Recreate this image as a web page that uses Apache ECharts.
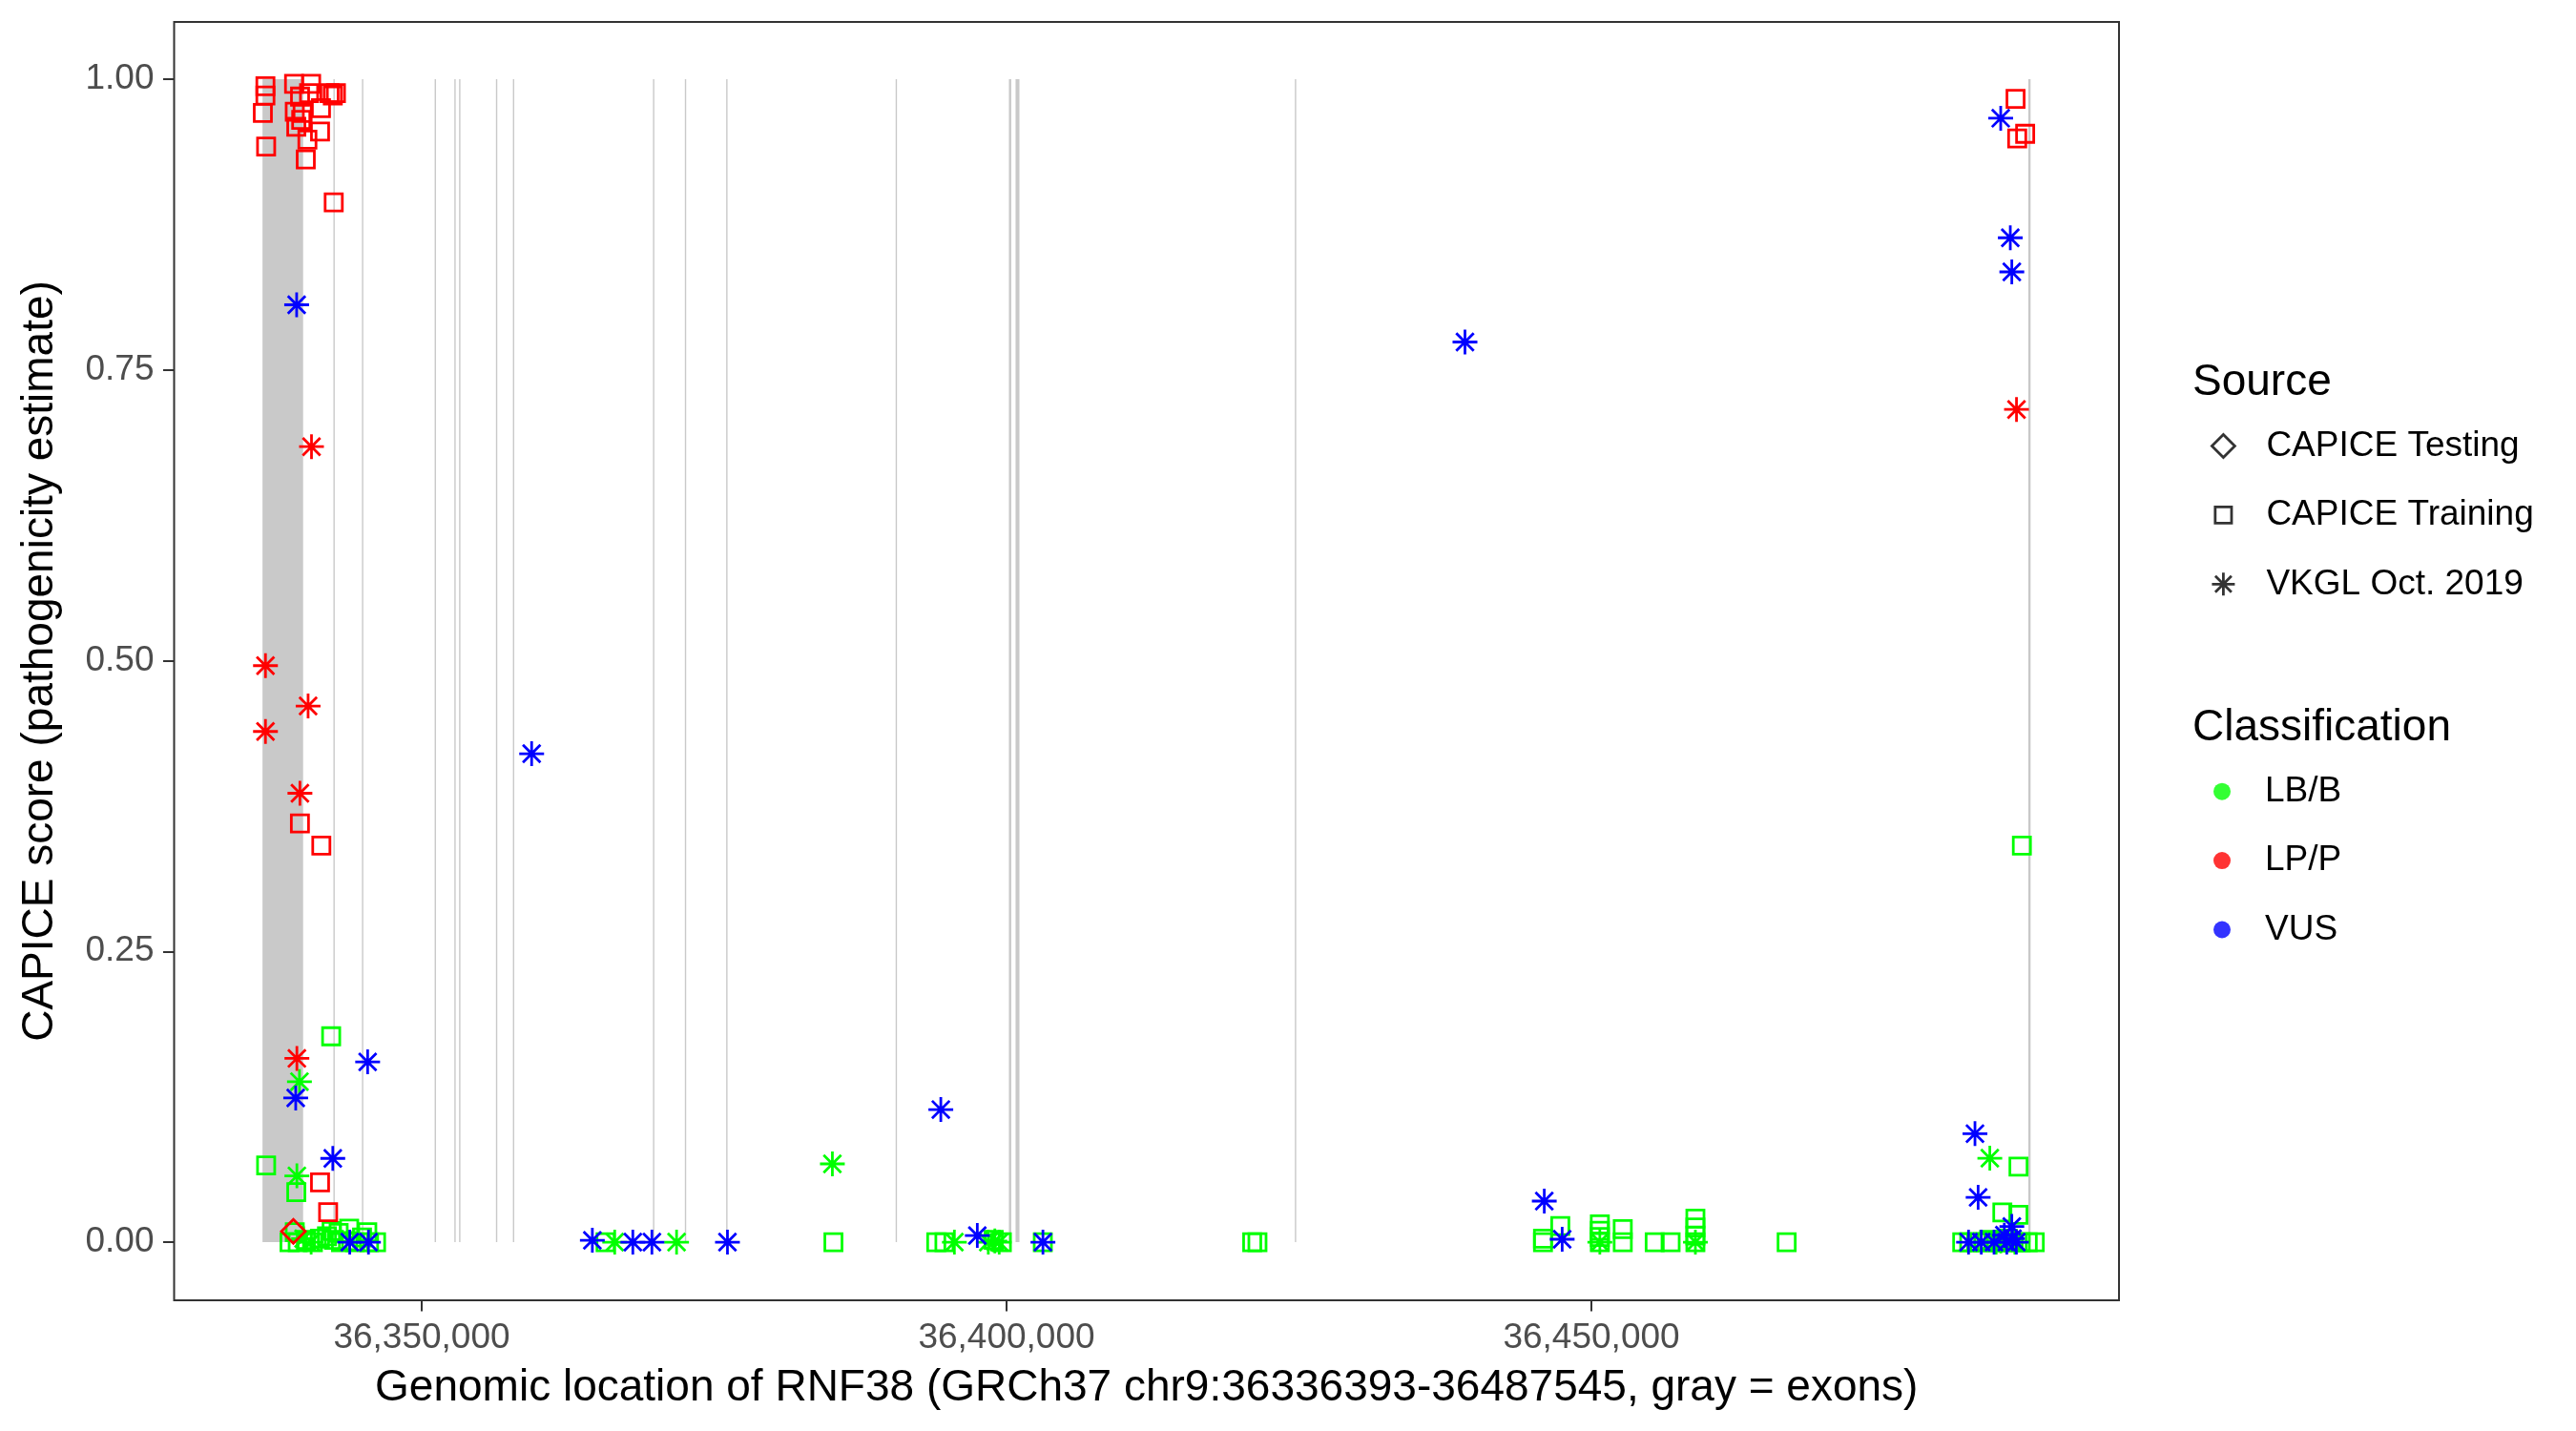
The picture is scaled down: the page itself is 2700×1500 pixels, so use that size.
<!DOCTYPE html>
<html><head><meta charset="utf-8">
<script src="https://cdn.jsdelivr.net/npm/echarts@6/dist/echarts.min.js"></script>
<style>html,body{margin:0;padding:0;background:#fff}#c{width:2700px;height:1500px}</style>
</head><body><div id="c"></div>
<script>
// ---- axis ticks ----
const xTicks = [36350000, 36400000, 36450000];
const yTicks = [0, 0.25, 0.5, 0.75, 1];
const xRange = [36328835, 36495103];   // gene range ± 5 %
const yRange = [-0.05, 1.0492];

// ---- exons (gray) ----
const exonStart = [36336393, 36342460, 36344900, 36351120, 36352800, 36353210, 36356360, 36357810, 36369780, 36372510, 36376040, 36390530, 36400200, 36400770, 36424660, 36487350];
const exonEnd   = [36339862, 36342560, 36345000, 36351210, 36352900, 36353300, 36356450, 36357900, 36369880, 36372600, 36376140, 36390620, 36400400, 36401100, 36424750, 36487545];

// ---- CAPICE Training, LB/B ----
const trainingLBB = [
  [36336700,0.066],[36342260,0.177],[36339280,0.043],[36339150,0.0085],[36343800,0.0117],[36345350,0.0085],
  [36338700,0],[36339400,0],[36340100,0.002],[36340700,0],[36341300,0.003],[36341900,0.005],[36342500,0.002],
  [36343100,0],[36343700,0.001],[36344300,0],[36344900,0.004],[36345500,0],[36346100,0],[36342300,0.0095],[36342900,0.008],
  [36365720,0],[36385200,0],[36393990,0],[36394690,0],[36398900,0.002],[36399600,0],[36403100,0],
  [36421000,0],[36421450,0],[36445860,0],[36445860,0.003],[36447340,0.0139],
  [36450720,0.0153],[36450720,0.0098],[36450720,0.0044],[36450720,0],[36452680,0.0112],[36452680,0],
  [36455410,0],[36456770,0],[36458890,0.0203],[36458890,0.0126],[36458890,0.0057],[36458890,0],[36466690,0],
  [36486800,0.341],[36486510,0.065],[36485130,0.0255],[36486500,0.0235],
  [36481700,0],[36482300,0],[36482900,0],[36483500,0],[36484000,0.002],[36484600,0],[36485100,0],
  [36485600,0.003],[36486100,0],[36486700,0],[36487300,0],[36487900,0]
];
// ---- CAPICE Training, LP/P ----
const trainingLPP = [
  [36336640,0.994],[36336640,0.986],[36336420,0.971],[36336700,0.942],[36339090,0.996],[36340550,0.996],
  [36340370,0.988],[36339150,0.972],[36339820,0.971],[36339280,0.959],[36340230,0.948],[36341310,0.955],
  [36341390,0.975],[36342120,0.988],[36342400,0.986],[36342670,0.988],[36340090,0.931],[36342480,0.894],
  [36339600,0.985],[36339700,0.965],
  [36339590,0.36],[36341420,0.341],[36341310,0.0514],[36342000,0.0257],
  [36486260,0.983],[36486400,0.949],[36487080,0.953]
];
// ---- CAPICE Testing, LP/P ----
const testingLPP = [[36339030,0.0093]];
// ---- VKGL Oct. 2019, LB/B ----
const vkglLBB = [
  [36339550,0.138],[36339330,0.057],[36340550,0],[36339900,0.003],
  [36366500,0],[36371790,0],[36385110,0.0673],[36395540,0],[36398440,0],[36399370,0],[36399000,0.001],
  [36450720,0],[36458890,0],[36484060,0.0722],[36484600,0],[36486200,0],[36485000,0.001]
];
// ---- VKGL Oct. 2019, LP/P ----
const vkglLPP = [
  [36336645,0.4957],[36336645,0.4391],[36340290,0.461],[36340580,0.684],[36339590,0.386],[36339330,0.158],[36486340,0.716]
];
// ---- VKGL Oct. 2019, VUS ----
const vkglVUS = [
  [36339310,0.806],[36339230,0.124],[36345380,0.155],[36342400,0.072],[36343850,0],[36345450,0],
  [36359400,0.42],[36364590,0.0016],[36368050,0],[36369680,0],[36376140,0],
  [36394380,0.114],[36397500,0.0057],[36403110,0],
  [36439190,0.774],[36445970,0.0353],[36447500,0.0025],
  [36482790,0.0933],[36483060,0.0385],[36485940,0.0135],[36485300,0.006],
  [36482240,0],[36483330,0],[36484420,0],[36485510,0],[36486330,0],[36486000,0.003],
  [36484990,0.9664],[36485810,0.8636],[36485940,0.8343]
];

const FONT = 'Liberation Sans, Arial, Helvetica, sans-serif';
const COL = {LB:'#00FF00', LP:'#FF0000', VUS:'#0000FF'};
const STAR = 'path://M0,-1L0,1M-1,0L1,0M-0.7071,-0.7071L0.7071,0.7071M-0.7071,0.7071L0.7071,-0.7071';
const SQUARE_LEG = 'path://M-0.2,-0.2M1.2,1.2M0,0L1,0L1,1L0,1Z';
const DIAMOND_LEG = 'path://M0.5,0L1,0.5L0.5,1L0,0.5Z';
const LW = 2.8;

function pts(name, data, symbol, size, color, z) {
  return {
    type:'scatter', name, data, symbol, symbolSize:size, z,
    itemStyle:{color:'rgba(0,0,0,0)', borderColor:color, borderWidth:LW, opacity:1},
    emphasis:{disabled:true}, silent:true
  };
}

const chart = echarts.init(document.getElementById('c'), null, {renderer:'canvas'});
chart.setOption({
  animation:false,
  backgroundColor:'#fff',
  textStyle:{fontFamily:FONT},
  grid:{left:182.5, top:23, width:2038.5, height:1340, show:true, borderColor:'#333333', borderWidth:2, backgroundColor:'rgba(0,0,0,0)'},
  xAxis:{
    type:'value', min:xRange[0], max:xRange[1], position:'bottom',
    axisLine:{show:false, onZero:false},
    splitLine:{show:false},
    axisTick:{show:true, length:11.5, lineStyle:{color:'#333333', width:2}, customValues:xTicks},
    axisLabel:{customValues:xTicks, formatter:v=>Number(v).toLocaleString('en-US'), fontSize:37, color:'#4D4D4D', margin:21, fontFamily:FONT},
    name:'Genomic location of RNF38 (GRCh37 chr9:36336393-36487545, gray = exons)',
    nameLocation:'middle', nameGap:69,
    nameTextStyle:{fontSize:46, color:'#000', fontFamily:FONT, verticalAlign:'top', lineHeight:46}
  },
  yAxis:{
    type:'value', min:yRange[0], max:yRange[1], position:'left',
    axisLine:{show:false, onZero:false},
    splitLine:{show:false},
    axisTick:{show:true, length:11.5, lineStyle:{color:'#333333', width:2}, customValues:yTicks},
    axisLabel:{customValues:yTicks, formatter:v=>Number(v).toFixed(2), fontSize:37, color:'#4D4D4D', margin:21, fontFamily:FONT},
    name:'CAPICE score (pathogenicity estimate)',
    nameLocation:'middle', nameGap:117,
    nameTextStyle:{fontSize:46, color:'#000', fontFamily:FONT, lineHeight:46}
  },
  legend:[
    {
      orient:'vertical', left:2317, top:445.5, padding:0, itemGap:28.4,
      itemWidth:80, itemHeight:24, selectedMode:false, symbolKeepAspect:true,
      textStyle:{fontSize:37, color:'#000', fontFamily:FONT, lineHeight:44},
      data:[
        {name:'CAPICE Testing', icon:DIAMOND_LEG, itemStyle:{color:'rgba(0,0,0,0)', borderColor:'#000', borderWidth:LW}},
        {name:'CAPICE Training', icon:SQUARE_LEG, itemStyle:{color:'rgba(0,0,0,0)', borderColor:'#000', borderWidth:LW}},
        {name:'VKGL Oct. 2019', icon:STAR, itemStyle:{color:'rgba(0,0,0,0)', borderColor:'#000', borderWidth:LW}}
      ]
    },
    {
      orient:'vertical', left:2320, top:807.7, padding:0, itemGap:28.4,
      itemWidth:80, itemHeight:18, selectedMode:false,
      textStyle:{fontSize:37, color:'#000', fontFamily:FONT, lineHeight:44},
      data:[
        {name:'LB/B', icon:'circle', itemStyle:{color:COL.LB, borderWidth:0}},
        {name:'LP/P', icon:'circle', itemStyle:{color:COL.LP, borderWidth:0}},
        {name:'VUS', icon:'circle', itemStyle:{color:COL.VUS, borderWidth:0}}
      ]
    }
  ],
  graphic:[
    {type:'text', x:2298, y:401, silent:true, style:{text:'Source', fontSize:46, fontFamily:FONT, fill:'#000', verticalAlign:'middle'}},
    {type:'text', x:2298, y:763, silent:true, style:{text:'Classification', fontSize:46, fontFamily:FONT, fill:'#000', verticalAlign:'middle'}}
  ],
  series:[
    {
      type:'custom', name:'exons', silent:true, z:1, clip:true,
      data: exonStart.map((s,i)=>[s, exonEnd[i]]),
      encode:{x:[0,1]},
      renderItem:(params, api)=>{
        const p0 = api.coord([api.value(0), 1]);
        const p1 = api.coord([api.value(1), 0]);
        let x = p0[0], w = p1[0]-p0[0];
        if (w < 1.4) { x -= (1.4-w)/2; w = 1.4; }
        return {type:'rect', shape:{x, y:p0[1], width:w, height:p1[1]-p0[1]}, style:{fill:'#C9C9C9'}};
      }
    },
    pts('Training LB/B', trainingLBB, 'rect', 18, COL.LB, 2),
    pts('Training LP/P', trainingLPP, 'rect', 18, COL.LP, 3),
    pts('VKGL LB/B', vkglLBB, STAR, 26, COL.LB, 4),
    pts('VKGL LP/P', vkglLPP, STAR, 26, COL.LP, 5),
    pts('VKGL VUS', vkglVUS, STAR, 26, COL.VUS, 6),
    pts('Testing LP/P', testingLPP, 'diamond', 25, COL.LP, 7),
    // legend-only series
    {type:'scatter', name:'CAPICE Testing', data:[], symbol:DIAMOND_LEG},
    {type:'scatter', name:'CAPICE Training', data:[], symbol:SQUARE_LEG},
    {type:'scatter', name:'VKGL Oct. 2019', data:[], symbol:STAR},
    {type:'scatter', name:'LB/B', data:[], symbol:'circle', itemStyle:{color:COL.LB}},
    {type:'scatter', name:'LP/P', data:[], symbol:'circle', itemStyle:{color:COL.LP}},
    {type:'scatter', name:'VUS', data:[], symbol:'circle', itemStyle:{color:COL.VUS}}
  ]
});
</script>
</body></html>
